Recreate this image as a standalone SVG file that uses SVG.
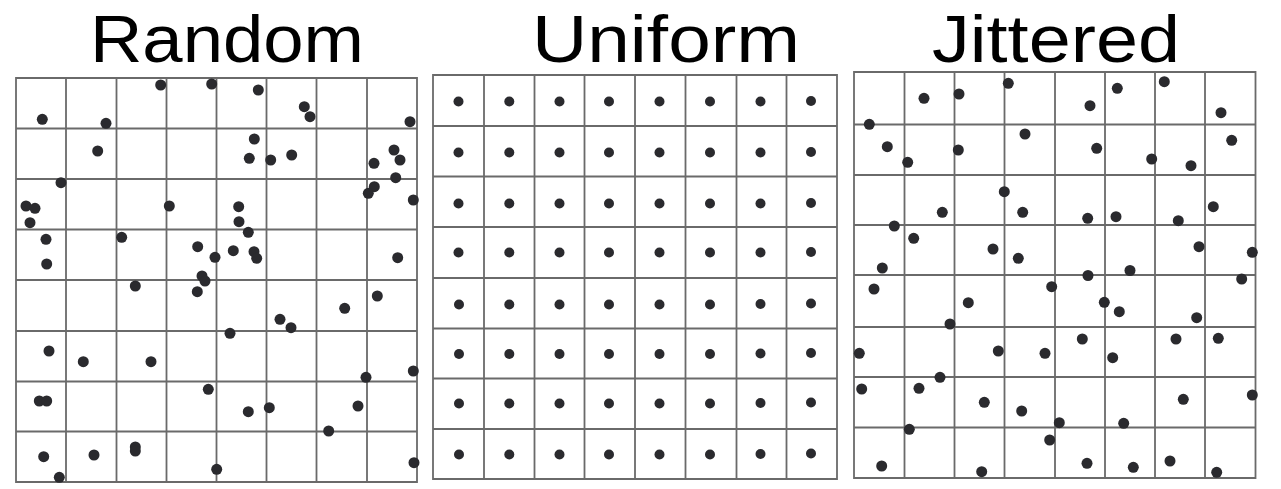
<svg xmlns="http://www.w3.org/2000/svg" width="1281" height="489" viewBox="0 0 1281 489">
<style>
.title{font-family:"Liberation Sans","Noto Sans",sans-serif;font-size:66px;fill:#000}
.grid{fill:none;stroke:#6a6a6a;stroke-width:1.8}
.d{fill:#2a2a2e}
</style>
<rect width="1281" height="489" fill="#fff"/>
<g id="titles">
<text class="title" x="90" y="62" textLength="274" lengthAdjust="spacingAndGlyphs">Random</text>
<text class="title" x="532" y="62" textLength="268" lengthAdjust="spacingAndGlyphs">Uniform</text>
<text class="title" x="932" y="62" textLength="248" lengthAdjust="spacingAndGlyphs">Jittered</text>
</g>
<g id="random">
<path class="grid" d="M16 78H417V482H16Z M66 78V482 M116.5 78V482 M166.5 78V482 M216.5 78V482 M266.5 78V482 M316.5 78V482 M367 78V482 M16 128.5H417 M16 179H417 M16 229.5H417 M16 280H417 M16 331H417 M16 381.5H417 M16 431.5H417"/>
<g class="d">
<circle cx="160.7" cy="85" r="5.5"/><circle cx="211.7" cy="84" r="5.5"/><circle cx="258.3" cy="90" r="5.5"/><circle cx="304.3" cy="106.7" r="5.5"/><circle cx="310" cy="116.7" r="5.5"/><circle cx="42.3" cy="119.3" r="5.5"/><circle cx="106" cy="123.3" r="5.5"/><circle cx="410" cy="121.7" r="5.5"/><circle cx="254.3" cy="139" r="5.5"/><circle cx="97.7" cy="151" r="5.5"/><circle cx="249.3" cy="158.3" r="5.5"/><circle cx="270.7" cy="160" r="5.5"/><circle cx="291.7" cy="155" r="5.5"/><circle cx="394" cy="150" r="5.5"/><circle cx="400" cy="160" r="5.5"/><circle cx="374" cy="163.3" r="5.5"/><circle cx="395.7" cy="177.7" r="5.5"/><circle cx="374.3" cy="186.7" r="5.5"/><circle cx="368.3" cy="193.3" r="5.5"/><circle cx="413.3" cy="200" r="5.5"/><circle cx="61" cy="182.7" r="5.5"/><circle cx="26" cy="206" r="5.5"/><circle cx="35" cy="208.3" r="5.5"/><circle cx="30" cy="222.7" r="5.5"/><circle cx="169.3" cy="206" r="5.5"/><circle cx="238.7" cy="206.7" r="5.5"/><circle cx="239" cy="221.7" r="5.5"/><circle cx="248.3" cy="232.3" r="5.5"/><circle cx="46" cy="239.3" r="5.5"/><circle cx="121.7" cy="237.3" r="5.5"/><circle cx="197.7" cy="246.7" r="5.5"/><circle cx="215" cy="257.3" r="5.5"/><circle cx="233.3" cy="250.7" r="5.5"/><circle cx="254" cy="251.7" r="5.5"/><circle cx="256.7" cy="258.3" r="5.5"/><circle cx="397.7" cy="257.7" r="5.5"/><circle cx="46.7" cy="264" r="5.5"/><circle cx="202" cy="276" r="5.5"/><circle cx="205" cy="281" r="5.5"/><circle cx="135.3" cy="286" r="5.5"/><circle cx="197.3" cy="291.7" r="5.5"/><circle cx="377.3" cy="296" r="5.5"/><circle cx="344.7" cy="308.3" r="5.5"/><circle cx="280" cy="319.3" r="5.5"/><circle cx="291" cy="327.7" r="5.5"/><circle cx="230" cy="333.3" r="5.5"/><circle cx="49" cy="351" r="5.5"/><circle cx="83.3" cy="361.7" r="5.5"/><circle cx="151" cy="361.7" r="5.5"/><circle cx="413.3" cy="371" r="5.5"/><circle cx="366" cy="377.3" r="5.5"/><circle cx="208.3" cy="389.3" r="5.5"/><circle cx="39.3" cy="401" r="5.5"/><circle cx="46.7" cy="401" r="5.5"/><circle cx="248.3" cy="411.7" r="5.5"/><circle cx="269.3" cy="407.7" r="5.5"/><circle cx="358" cy="406" r="5.5"/><circle cx="328.7" cy="431" r="5.5"/><circle cx="43.7" cy="456.7" r="5.5"/><circle cx="94" cy="455" r="5.5"/><circle cx="135.3" cy="447" r="5.5"/><circle cx="135.3" cy="451" r="5.5"/><circle cx="216.7" cy="469.3" r="5.5"/><circle cx="59.3" cy="477.3" r="5.5"/><circle cx="414" cy="462.7" r="5.5"/>
</g>
</g>
<g id="uniform">
<path class="grid" d="M433 75H837V479H433Z M484 75V479 M534.5 75V479 M584.5 75V479 M635 75V479 M685.5 75V479 M736.5 75V479 M786.5 75V479 M433 126H837 M433 176.5H837 M433 227H837 M433 278H837 M433 328.5H837 M433 378.5H837 M433 429H837"/>
<g class="d">
<circle cx="458.5" cy="101.5" r="5"/><circle cx="509.3" cy="101.5" r="5"/><circle cx="559.5" cy="101.5" r="5"/><circle cx="609" cy="101.5" r="5"/><circle cx="659.5" cy="101.5" r="5"/><circle cx="710" cy="101.5" r="5"/><circle cx="760.5" cy="101.5" r="5"/><circle cx="811" cy="101" r="5"/>
<circle cx="458.5" cy="152.5" r="5"/><circle cx="509.3" cy="152.5" r="5"/><circle cx="559.5" cy="152.5" r="5"/><circle cx="609" cy="152.5" r="5"/><circle cx="659.5" cy="152.5" r="5"/><circle cx="710" cy="152.5" r="5"/><circle cx="760.5" cy="152.5" r="5"/><circle cx="811" cy="152" r="5"/>
<circle cx="458.5" cy="203.5" r="5"/><circle cx="509.3" cy="203.5" r="5"/><circle cx="559.5" cy="203.5" r="5"/><circle cx="609" cy="203.5" r="5"/><circle cx="659.5" cy="203.5" r="5"/><circle cx="710" cy="203.5" r="5"/><circle cx="760.5" cy="203.5" r="5"/><circle cx="811" cy="203" r="5"/>
<circle cx="458.5" cy="252.5" r="5"/><circle cx="509.3" cy="252.5" r="5"/><circle cx="559.5" cy="252.5" r="5"/><circle cx="609" cy="252.5" r="5"/><circle cx="659.5" cy="252.5" r="5"/><circle cx="710" cy="252.5" r="5"/><circle cx="760.5" cy="252.5" r="5"/><circle cx="811" cy="252" r="5"/>
<circle cx="459" cy="304.5" r="5"/><circle cx="509.3" cy="304.5" r="5"/><circle cx="559.5" cy="304.5" r="5"/><circle cx="609" cy="304.5" r="5"/><circle cx="659.5" cy="304.5" r="5"/><circle cx="710" cy="304.5" r="5"/><circle cx="760.5" cy="304" r="5"/><circle cx="811" cy="303.5" r="5"/>
<circle cx="459" cy="354" r="5"/><circle cx="509.3" cy="354" r="5"/><circle cx="559.5" cy="354" r="5"/><circle cx="609" cy="354" r="5"/><circle cx="659.5" cy="354" r="5"/><circle cx="710" cy="354" r="5"/><circle cx="760.5" cy="353.5" r="5"/><circle cx="811" cy="353" r="5"/>
<circle cx="459" cy="403.5" r="5"/><circle cx="509.3" cy="403.5" r="5"/><circle cx="559.5" cy="403.5" r="5"/><circle cx="609" cy="403.5" r="5"/><circle cx="659.5" cy="403.5" r="5"/><circle cx="710" cy="403.5" r="5"/><circle cx="760.5" cy="403" r="5"/><circle cx="811" cy="402.5" r="5"/>
<circle cx="459" cy="454.5" r="5"/><circle cx="509.3" cy="454.5" r="5"/><circle cx="559.5" cy="454.5" r="5"/><circle cx="609" cy="454.5" r="5"/><circle cx="659.5" cy="454.5" r="5"/><circle cx="710" cy="454.5" r="5"/><circle cx="760.5" cy="454" r="5"/><circle cx="811" cy="453.5" r="5"/>
</g>
</g>
<g id="jittered">
<path class="grid" d="M854 72H1255.5V478H854Z M904.5 72V478 M954.5 72V478 M1004.5 72V478 M1055 72V478 M1105 72V478 M1155 72V478 M1205 72V478 M854 124.5H1255.5 M854 175H1255.5 M854 225H1255.5 M854 275H1255.5 M854 327H1255.5 M854 377H1255.5 M854 427.5H1255.5"/>
<g class="d">
<circle cx="1008.3" cy="83.3" r="5.5"/><circle cx="959" cy="94" r="5.5"/><circle cx="924" cy="98.3" r="5.5"/><circle cx="1117.3" cy="88.3" r="5.5"/><circle cx="1164.3" cy="81.7" r="5.5"/><circle cx="1090" cy="105.7" r="5.5"/><circle cx="1221" cy="112.7" r="5.5"/><circle cx="869.3" cy="124.3" r="5.5"/><circle cx="1025" cy="134" r="5.5"/><circle cx="1231.7" cy="140.3" r="5.5"/><circle cx="887.3" cy="146.7" r="5.5"/><circle cx="958.3" cy="150" r="5.5"/><circle cx="1096.7" cy="148.3" r="5.5"/><circle cx="907.7" cy="162.3" r="5.5"/><circle cx="1151.7" cy="159" r="5.5"/><circle cx="1191" cy="165.7" r="5.5"/><circle cx="1004.3" cy="191.7" r="5.5"/><circle cx="942.3" cy="212.3" r="5.5"/><circle cx="1022.7" cy="212.3" r="5.5"/><circle cx="1087.7" cy="218.3" r="5.5"/><circle cx="1116" cy="216.7" r="5.5"/><circle cx="1178.3" cy="220.7" r="5.5"/><circle cx="1213.3" cy="206.7" r="5.5"/><circle cx="894.3" cy="226" r="5.5"/><circle cx="913.7" cy="238.3" r="5.5"/><circle cx="993" cy="249" r="5.5"/><circle cx="1018.3" cy="258.3" r="5.5"/><circle cx="1199" cy="246.7" r="5.5"/><circle cx="1252.3" cy="252.3" r="5.5"/><circle cx="882.3" cy="268" r="5.5"/><circle cx="1130" cy="270.5" r="5.5"/><circle cx="1088" cy="275.5" r="5.5"/><circle cx="1241.7" cy="279" r="5.5"/><circle cx="874" cy="289" r="5.5"/><circle cx="1051.7" cy="286.7" r="5.5"/><circle cx="968.3" cy="302.7" r="5.5"/><circle cx="1104.3" cy="302.3" r="5.5"/><circle cx="1119.3" cy="311.7" r="5.5"/><circle cx="1196.7" cy="317.7" r="5.5"/><circle cx="950" cy="324" r="5.5"/><circle cx="1082.3" cy="339" r="5.5"/><circle cx="1176" cy="339" r="5.5"/><circle cx="1218.3" cy="338.3" r="5.5"/><circle cx="859.3" cy="353.3" r="5.5"/><circle cx="998.3" cy="351" r="5.5"/><circle cx="1045" cy="353.3" r="5.5"/><circle cx="1112.7" cy="357.7" r="5.5"/><circle cx="940" cy="377.3" r="5.5"/><circle cx="861.7" cy="389" r="5.5"/><circle cx="919" cy="388.3" r="5.5"/><circle cx="984.3" cy="402.3" r="5.5"/><circle cx="1183.3" cy="399.3" r="5.5"/><circle cx="1252.3" cy="395" r="5.5"/><circle cx="1021.7" cy="411" r="5.5"/><circle cx="1059.3" cy="422.7" r="5.5"/><circle cx="1123.7" cy="423.3" r="5.5"/><circle cx="909.3" cy="429.3" r="5.5"/><circle cx="1049.7" cy="440" r="5.5"/><circle cx="881.7" cy="466" r="5.5"/><circle cx="981.7" cy="471.7" r="5.5"/><circle cx="1087" cy="463.3" r="5.5"/><circle cx="1133.3" cy="467.3" r="5.5"/><circle cx="1170" cy="461" r="5.5"/><circle cx="1216.7" cy="472.3" r="5.5"/>
</g>
</g>
</svg>
